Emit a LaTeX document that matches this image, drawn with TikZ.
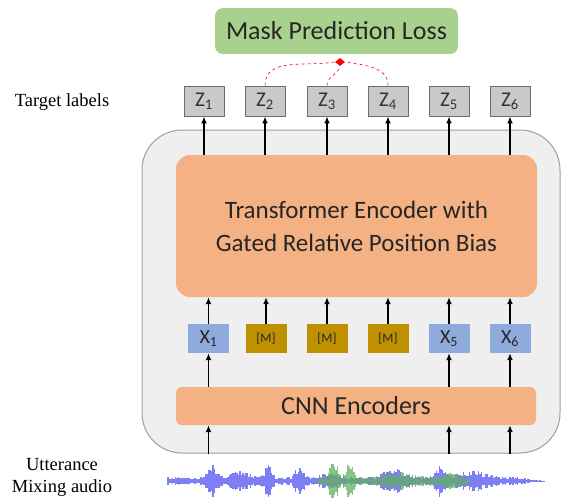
\documentclass[tikz,border=0pt]{standalone}
\usepackage{fontspec}
\setmainfont{Carlito}
\newfontfamily\labelfont{Liberation Serif}
\usetikzlibrary{shapes.geometric,arrows.meta,positioning,calc}
\definecolor{lossgreen}{HTML}{A9D18E}
\definecolor{encorange}{HTML}{F4B183}
\definecolor{xblue}{HTML}{8FAADC}
\definecolor{maskgold}{HTML}{BF9000}
\definecolor{zgray}{HTML}{C9C9C9}
\definecolor{framegray}{HTML}{EFEFEF}
\definecolor{waveblue}{HTML}{7F7FF5}
\definecolor{wavegreen}{HTML}{5FB05F}
\tikzstyle{line} = [draw, line width=1.6pt, -{Latex[length=7pt,width=6pt]}]
\tikzset{
  zbox/.style={draw=gray!85!black, fill=zgray, line width=0.9pt, minimum width=40pt, minimum height=30pt, inner sep=0pt, text=black!80, font=\fontsize{21}{21}\selectfont},
  xbox/.style={fill=xblue, minimum width=41pt, minimum height=29pt, inner sep=0pt, text=black!85, font=\fontsize{20}{20}\selectfont},
  mbox/.style={fill=maskgold, minimum width=41pt, minimum height=29pt, inner sep=0pt, text=black!85, font=\fontsize{13}{13}\selectfont},
  lossdash/.style={draw=red, dashed, line width=0.6pt},
  sidelabel/.style={font=\labelfont\fontsize{18.5}{20}\selectfont}
}

\begin{document}
\begin{tikzpicture}[x=1pt,y=-1pt]
      \useasboundingbox (0,0) rectangle (562,499);

      % outer frame and blocks
      \node [draw=gray!75, fill=framegray, line width=1pt, rounded corners=40pt, minimum width=418pt, minimum height=323pt] (frame) at (351,291.5) {};
      \node [fill=lossgreen, rounded corners=8pt, minimum width=243pt, minimum height=46pt, font=\fontsize{26}{26}\selectfont, text=black!85] (loss) at (336.5,31) {Mask Prediction Loss};
      \node [fill=encorange, rounded corners=14pt, minimum width=361pt, minimum height=142pt, align=center, font=\fontsize{25}{33}\selectfont, text=black!85] (trans) at (356.5,226) {Transformer Encoder with\\Gated Relative Position Bias};
      \node [fill=encorange, rounded corners=6pt, minimum width=360pt, minimum height=38pt, font=\fontsize{26}{26}\selectfont, text=black!85] (cnn) at (356,406) {CNN Encoders};

      % target labels
      \node [zbox] (z1) at (204,101) {Z\textsubscript{1}};
      \node [zbox] (z2) at (265,101) {Z\textsubscript{2}};
      \node [zbox] (z3) at (327,101) {Z\textsubscript{3}};
      \node [zbox] (z4) at (388,101) {Z\textsubscript{4}};
      \node [zbox] (z5) at (449,101) {Z\textsubscript{5}};
      \node [zbox] (z6) at (510,101) {Z\textsubscript{6}};

      % inputs, masked and kept
      \node [xbox] (x1) at (208.5,338.5) {X\textsubscript{1}};
      \node [mbox] (x2) at (266,338.5) {[M]};
      \node [mbox] (x3) at (327,338.5) {[M]};
      \node [mbox] (x4) at (388,338.5) {[M]};
      \node [xbox] (x5) at (449,338.5) {X\textsubscript{5}};
      \node [xbox] (x6) at (510,338.5) {X\textsubscript{6}};

      \foreach \i in {1,...,6} {
        \path [line] (z\i |- trans.north) -- (z\i.south);
        \path [line] (x\i.north) -- (x\i |- trans.south);
      }
      \foreach \i in {1,5,6} {
        \path [line] (x\i |- cnn.north) -- (x\i.south);
        \path [line] (x\i |- frame.south) -- (x\i |- cnn.south);
      }

      % loss over masked positions
      \node [diamond, fill=red, inner sep=0pt, minimum width=10pt, minimum height=8pt] (join) at (340,62) {};
      \draw [lossdash] (z2.north) to[out=90,in=190] (join.west);
      \draw [lossdash] (z3.north) to[out=90,in=-105] (join.south);
      \draw [lossdash] (z4.north) to[out=90,in=-10] (join.east);

      % waveform
      \pgfmathsetseed{7}
      \foreach \x in {168,169.5,...,545} {
        \pgfmathsetmacro\env{4 + 12*exp(-((\x-212)/6)^2) + 8*exp(-((\x-240)/10)^2) + 13*exp(-((\x-268)/5)^2) + 15*exp(-((\x-300)/5)^2) + 7*exp(-((\x-330)/10)^2) + 10*exp(-((\x-395)/14)^2) + 14*exp(-((\x-440)/6)^2) + 7*exp(-((\x-472)/18)^2)}
        \pgfmathsetmacro\taper{\x>515 ? (546-\x)/31 : 1}
        \pgfmathsetmacro\h{\env*\taper*(0.45+0.55*rnd)}
        \draw [waveblue, line width=1.6pt] (\x,481-\h) -- (\x,481+\h);
      }
      \foreach \x in {318,319.5,...,470} {
        \pgfmathsetmacro\env{4 + 19*exp(-((\x-334)/5)^2) + 17*exp(-((\x-350)/5)^2) + 6*exp(-((\x-400)/16)^2) + 5*exp(-((\x-450)/10)^2)}
        \pgfmathsetmacro\h{\env*(0.4+0.6*rnd)}
        \draw [wavegreen, opacity=0.75, line width=1.6pt] (\x,481-\h) -- (\x,481+\h);
      }

      % side labels
      \node [sidelabel] (tl) at (62,102) {Target labels};
      \node [sidelabel] (utt) at (62,465) {Utterance};
      \node [sidelabel] (mix) at (62,488) {Mixing audio};
\end{tikzpicture}
\end{document}
